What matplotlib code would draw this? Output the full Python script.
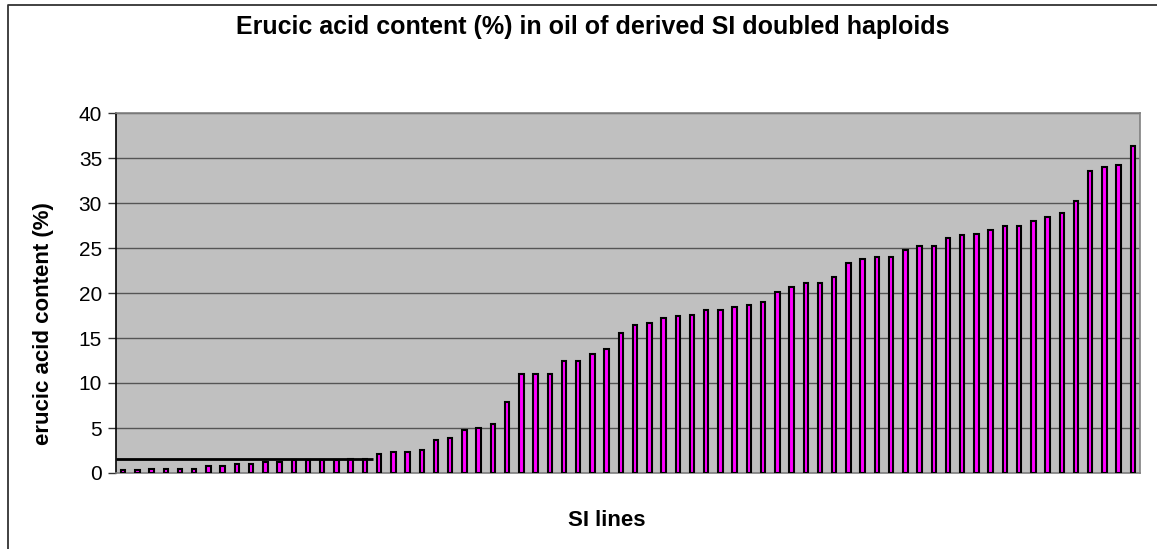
import matplotlib
matplotlib.use("Agg")
import matplotlib.pyplot as plt
from matplotlib.lines import Line2D
import numpy as np

plt.rcParams['font.family'] = ['Liberation Sans', 'DejaVu Sans']

title = "Erucic acid content (%) in oil of derived SI doubled haploids"
xlabel = "SI lines"
ylabel = "erucic acid content (%)"

erucic = [0.3, 0.3, 0.5, 0.5, 0.5, 0.5, 0.8, 0.8, 1.0, 1.0, 1.2, 1.2,
          1.45, 1.45, 1.45, 1.45, 1.6, 1.6, 2.1, 2.3, 2.3, 2.55, 3.65, 3.9,
          4.8, 5.0, 5.4, 7.85, 11.0, 11.0, 11.0, 12.5, 12.5, 13.2, 13.8, 15.6,
          16.5, 16.7, 17.2, 17.4, 17.6, 18.1, 18.1, 18.5, 18.7, 18.95, 20.1, 20.7,
          21.1, 21.1, 21.75, 23.3, 23.75, 23.95, 23.95, 24.8, 25.25, 25.25, 26.15, 26.4,
          26.6, 27.05, 27.5, 27.5, 27.95, 28.4, 28.85, 30.25, 33.55, 34.0, 34.25, 36.3]
yticks = [0, 5, 10, 15, 20, 25, 30, 35, 40]
threshold = 1.55
n_below = 18

W, H = 1157, 549
fig = plt.figure(figsize=(W / 100, H / 100), dpi=100)
fig.patch.set_facecolor('white')

ax = fig.add_axes([116 / W, 1 - 473 / H, (1140 - 116) / W, (473 - 113) / H])
ax.set_facecolor('#C0C0C0')

x = np.arange(len(erucic))
ax.bar(x, erucic, width=0.32, color='#FF00FF', edgecolor='black', linewidth=1.5, zorder=3)

ax.plot([-0.5, n_below - 0.4], [threshold, threshold], color='black', linewidth=2.0, zorder=4,
        solid_capstyle='butt')

ax.set_xlim(-0.5, len(erucic) - 0.5)
ax.set_ylim(0, 40)
ax.set_yticks(yticks)
ax.set_yticklabels([str(t) for t in yticks], fontsize=15)
ax.tick_params(axis='y', direction='out', length=6, width=1, color='#333333', pad=4)
ax.set_xticks([])
ax.yaxis.grid(True, color='#555555', linewidth=1.0, zorder=1)
ax.set_axisbelow(True)

for s in ['top', 'right', 'bottom']:
    ax.spines[s].set_color('#808080')
    ax.spines[s].set_linewidth(1.2)
ax.spines['left'].set_color('black')
ax.spines['left'].set_linewidth(1.2)

fig.text(593 / W, 1 - 34 / H, title, ha='center', va='baseline', fontsize=18, fontweight='bold')
fig.text(607 / W, 1 - 526 / H, xlabel, ha='center', va='baseline', fontsize=16, fontweight='bold')
fig.text(44 / W, 1 - 324 / H, ylabel, ha='center', va='center', rotation=90, fontsize=16,
         fontweight='bold')

# outer chart border (left and top visible)
fig.add_artist(Line2D([8 / W, 8 / W, 1.0], [0.0, 1 - 5 / H, 1 - 5 / H], transform=fig.transFigure,
                      color='#333333', linewidth=1.3))

fig.savefig('out.png', dpi=100)
